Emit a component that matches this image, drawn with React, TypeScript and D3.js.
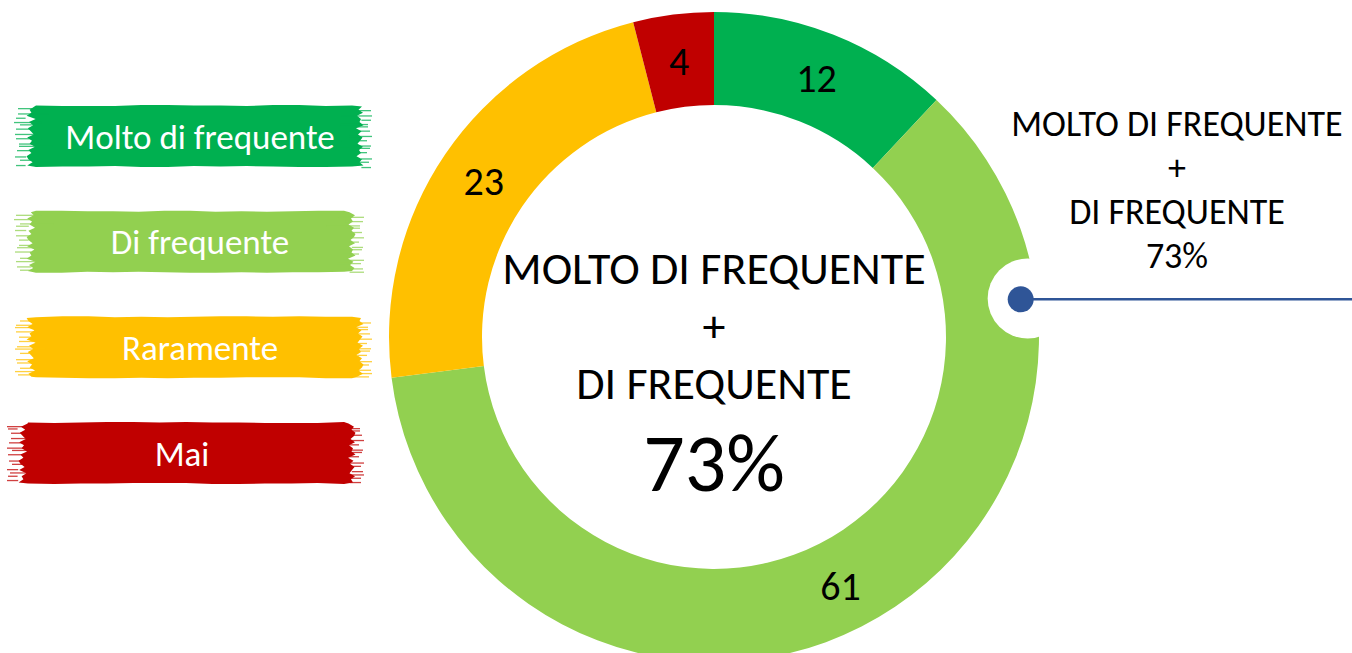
import React, { useEffect, useRef } from 'react';
import * as d3 from 'd3';

// chart data
const categories = ['Molto di frequente', 'Di frequente', 'Raramente', 'Mai'];
const values = [12, 61, 23, 4];
const colors = ['#00B050', '#92D050', '#FFC000', '#C00000'];
const summaryLines = ['MOLTO DI FREQUENTE', '+', 'DI FREQUENTE'];
const summaryValue = '73%';

const W = 1352;
const H = 653;
const FONT = 'Calibri, Carlito, Lato, "Noto Sans", sans-serif';

// irregular edge pattern for the brush-stroke legend swatches (decoration only)
const RAG = [4, 11, 2, 14, 6, 9, 1, 16, 5, 12, 3, 8, 13, 2, 10, 6, 15, 4, 9, 1];

function brushPath(x0: number, x1: number, yc: number, h: number, shift: number) {
    const top = yc - h / 2;
    const bottom = yc + h / 2;
    const n = RAG.length;
    const pts: [number, number][] = [];
    for (let i = 0; i <= 12; i++) {
        const x = x0 + 16 + ((x1 - x0 - 32) * i) / 12;
        pts.push([x, top + (RAG[(i + shift) % n] % 3) * 0.5]);
    }
    for (let i = 0; i < n; i++) {
        const y = top + (h * (i + 0.5)) / n;
        pts.push([x1 - 4 - RAG[(i + shift * 3) % n] * 0.5, y]);
    }
    for (let i = 12; i >= 0; i--) {
        const x = x0 + 16 + ((x1 - x0 - 32) * i) / 12;
        pts.push([x, bottom - (RAG[(i + shift + 5) % n] % 3) * 0.5]);
    }
    for (let i = n - 1; i >= 0; i--) {
        const y = top + (h * (i + 0.5)) / n;
        pts.push([x0 + 6 + RAG[(i + shift * 7 + 3) % n] * 0.6, y]);
    }
    return d3.line()(pts) + 'Z';
}

export default function App() {
    const ref = useRef<SVGSVGElement>(null);

    useEffect(() => {
        const svg = d3.select(ref.current);
        svg.selectAll('*').remove();

        // ---------- doughnut ----------
        const cx = 714;
        const cy = 337;
        const outerR = 325;
        const innerR = 232;

        const pie = d3.pie<number>().sort(null).value((d) => d);
        const arcs = pie(values);
        const arc = d3.arc<d3.PieArcDatum<number>>().innerRadius(innerR).outerRadius(outerR);

        const g = svg.append('g').attr('transform', `translate(${cx},${cy})`);
        g.selectAll('path.slice')
            .data(arcs)
            .join('path')
            .attr('class', 'slice')
            .attr('d', arc)
            .attr('fill', (d, i) => colors[i]);

        g.selectAll('text.val')
            .data(arcs)
            .join('text')
            .attr('class', 'val')
            .attr('x', (d) => arc.centroid(d)[0])
            .attr('y', (d) => arc.centroid(d)[1])
            .attr('dy', '0.36em')
            .attr('text-anchor', 'middle')
            .attr('font-family', FONT)
            .attr('font-size', 40)
            .attr('fill', '#000')
            .text((d) => d.data);

        // centre summary
        const lineY = d3.scalePoint<number>().domain([0, 1, 2]).range([284, 399]);
        g.selectAll('text.sum')
            .data(summaryLines)
            .join('text')
            .attr('class', 'sum')
            .attr('x', 0)
            .attr('y', (d, i) => lineY(i)! - cy)
            .attr('text-anchor', 'middle')
            .attr('font-family', FONT)
            .attr('font-size', 46)
            .attr('fill', '#000')
            .text((d) => d);
        g.append('text')
            .attr('x', 0)
            .attr('y', 491 - cy)
            .attr('text-anchor', 'middle')
            .attr('font-family', FONT)
            .attr('font-size', 82)
            .attr('font-weight', 300)
            .attr('fill', '#000')
            .text(summaryValue);

        // ---------- callout ----------
        const calloutAngle = (83 * Math.PI) / 180;
        const notch = [Math.sin(calloutAngle) * (outerR - 9), -Math.cos(calloutAngle) * (outerR - 9)];
        const dot = [Math.sin(calloutAngle) * (outerR - 16), -Math.cos(calloutAngle) * (outerR - 16)];
        g.append('circle').attr('cx', notch[0]).attr('cy', notch[1]).attr('r', 40).attr('fill', '#fff');
        g.append('line')
            .attr('x1', dot[0])
            .attr('y1', dot[1])
            .attr('x2', W - cx)
            .attr('y2', dot[1])
            .attr('stroke', '#2F5597')
            .attr('stroke-width', 2.5);
        g.append('circle').attr('cx', dot[0]).attr('cy', dot[1]).attr('r', 13).attr('fill', '#2F5597');

        const rightLines = [...summaryLines, summaryValue];
        const rightY = d3.scalePoint<number>().domain([0, 1, 2, 3]).range([136, 268]);
        svg.selectAll('text.right')
            .data(rightLines)
            .join('text')
            .attr('class', 'right')
            .attr('x', 1177)
            .attr('y', (d, i) => rightY(i)!)
            .attr('text-anchor', 'middle')
            .attr('font-family', FONT)
            .attr('font-size', 36)
            .attr('fill', '#000')
            .text((d) => d);

        // ---------- brush-stroke legend ----------
        const rowY = d3.scalePoint<string>().domain(categories).range([136, 453]);
        const leg = svg.append('g');
        const left = (i: number) => (i === 3 ? 12 : 20);
        const right = (i: number) => (i === 1 || i === 3 ? 360 : 368);
        leg.selectAll('path.brush')
            .data(categories)
            .join('path')
            .attr('class', 'brush')
            .attr('d', (d, i) => brushPath(left(i), right(i), rowY(d)!, 62, i * 4))
            .attr('fill', (d, i) => colors[i]);
        // thin feathered streaks at both ends of each stroke
        categories.forEach((c, i) => {
            const yc = rowY(c)!;
            const x0 = left(i);
            const x1 = right(i);
            for (let k = 0; k < 14; k++) {
                const y = yc - 29 + k * 4.3 + (RAG[(k + i) % RAG.length] % 3);
                const len = 8 + RAG[(k * 3 + i) % RAG.length] * 1.6;
                leg.append('rect')
                    .attr('x', x0 - 6 + (RAG[(k + 2 * i) % RAG.length] % 7))
                    .attr('y', y)
                    .attr('width', len)
                    .attr('height', 1.3)
                    .attr('fill', colors[i])
                    .attr('opacity', 0.75);
                leg.append('rect')
                    .attr('x', x1 - len + 5 - (RAG[(k + 5 + i) % RAG.length] % 7))
                    .attr('y', y + 2)
                    .attr('width', len)
                    .attr('height', 1.3)
                    .attr('fill', colors[i])
                    .attr('opacity', 0.75);
            }
        });
        leg.selectAll('text.lab')
            .data(categories)
            .join('text')
            .attr('class', 'lab')
            .attr('x', (d, i) => (i === 3 ? 182 : 200))
            .attr('y', (d) => rowY(d)!)
            .attr('dy', '0.36em')
            .attr('text-anchor', 'middle')
            .attr('font-family', FONT)
            .attr('font-size', 35)
            .attr('font-weight', 300)
            .attr('fill', '#fff')
            .text((d) => d);
    }, []);

    return (
        <svg
            ref={ref}
            width={W}
            height={H}
            style={{ position: 'absolute', left: 0, top: 0, display: 'block', background: '#fff' }}
        />
    );
}
